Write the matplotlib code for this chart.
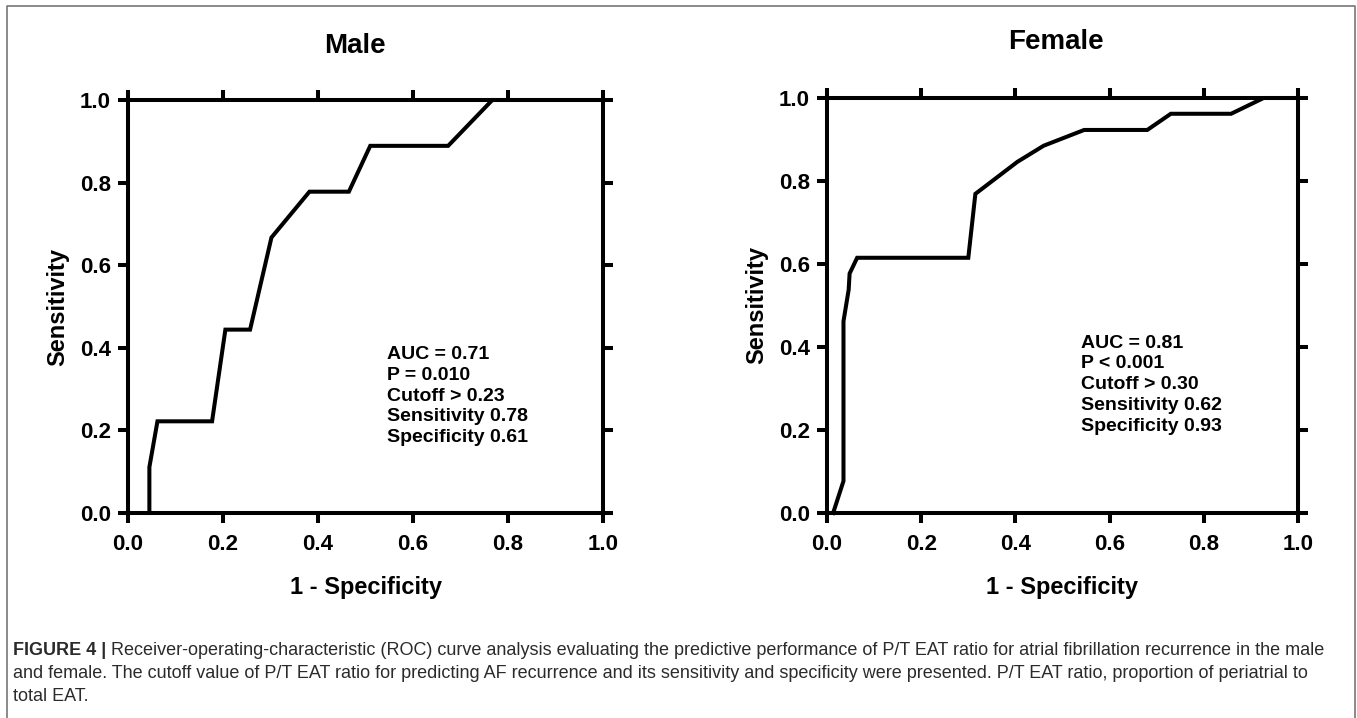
import numpy as np
import matplotlib
matplotlib.use("Agg")
import matplotlib.pyplot as plt
from matplotlib.lines import Line2D

plt.rcParams['font.family'] = ['Liberation Sans', 'DejaVu Sans']

# ROC curve points (1 - specificity, sensitivity)
male_fpr = [0.045, 0.045, 0.062, 0.177, 0.205, 0.257, 0.302, 0.382, 0.465, 0.51, 0.674, 0.767, 1.0]
male_tpr = [0.0, 0.111, 0.222, 0.222, 0.444, 0.444, 0.667, 0.778, 0.778, 0.889, 0.889, 1.0, 1.0]

female_fpr = [0.013, 0.035, 0.035, 0.046, 0.048, 0.064, 0.30, 0.315, 0.404, 0.46, 0.546, 0.68, 0.73, 0.858, 0.927, 1.0]
female_tpr = [0.0, 0.077, 0.462, 0.538, 0.577, 0.615, 0.615, 0.769, 0.846, 0.885, 0.923, 0.923, 0.962, 0.962, 1.0, 1.0]

male_stats = ["AUC = 0.71", "P = 0.010", "Cutoff > 0.23", "Sensitivity 0.78", "Specificity 0.61"]
female_stats = ["AUC = 0.81", "P < 0.001", "Cutoff > 0.30", "Sensitivity 0.62", "Specificity 0.93"]

ticks = [0.0, 0.2, 0.4, 0.6, 0.8, 1.0]
tick_labels = ["0.0", "0.2", "0.4", "0.6", "0.8", "1.0"]

W, H = 1357, 718
fig = plt.figure(figsize=(W / 100, H / 100), dpi=100)


def px_box(left, top, right, bottom):
    return [left / W, 1 - bottom / H, (right - left) / W, (bottom - top) / H]


ax_m = fig.add_axes(px_box(128, 100, 603, 513))
ax_f = fig.add_axes(px_box(827, 98, 1298, 513))

lw = 2.9
for ax, fpr, tpr, stats, stat_pos in [
    (ax_m, male_fpr, male_tpr, male_stats, (0.545, 0.405)),
    (ax_f, female_fpr, female_tpr, female_stats, (0.54, 0.43)),
]:
    ax.plot(fpr, tpr, color='black', lw=lw, clip_on=False, solid_joinstyle='miter')
    ax.set_xlim(0, 1)
    ax.set_ylim(0, 1)
    ax.set_xticks(ticks)
    ax.set_yticks(ticks)
    ax.set_xticklabels(tick_labels)
    ax.set_yticklabels(tick_labels)
    for s in ax.spines.values():
        s.set_linewidth(lw)
    ax.tick_params(direction='out', length=7.2, width=lw, top=True, right=True,
                   labelsize=16, pad=5)
    ax.tick_params(axis='x', pad=8)
    for lab in ax.get_xticklabels() + ax.get_yticklabels():
        lab.set_fontweight('bold')
    ax.set_xlabel("1 - Specificity", fontsize=17, fontweight='bold', labelpad=15)
    ax.set_ylabel("Sensitivity", fontsize=17, fontweight='bold', labelpad=8)
    ax.text(stat_pos[0], stat_pos[1], "\n".join(stats), transform=ax.transData,
            fontsize=14, fontweight='bold', va='top', ha='left', linespacing=1.3)

fig.text(355 / W, 1 - 46 / H, "Male", fontsize=20, fontweight='bold', ha='center', va='center')
fig.text(1056 / W, 1 - 42 / H, "Female", fontsize=20, fontweight='bold', ha='center', va='center')

# outer frame of the figure panel
frame_col = '#777777'
fig.add_artist(Line2D([7 / W, 7 / W, 1355 / W, 1355 / W], [0, 1 - 6 / H, 1 - 6 / H, 0],
                      transform=fig.transFigure, color=frame_col, lw=1.2))

# caption
cap_col = '#2b2b2b'
cap_lines = [
    "Receiver-operating-characteristic (ROC) curve analysis evaluating the predictive performance of P/T EAT ratio for atrial fibrillation recurrence in the male",
    "and female. The cutoff value of P/T EAT ratio for predicting AF recurrence and its sensitivity and specificity were presented. P/T EAT ratio, proportion of periatrial to",
    "total EAT.",
]
baselines = [655, 678, 701]
cap_size = 13
fig.canvas.draw()
r = fig.canvas.get_renderer()
bold = fig.text(13 / W, 1 - baselines[0] / H, "FIGURE 4 | ", fontsize=cap_size, fontweight='bold',
                color=cap_col, va='baseline', ha='left')
bb = bold.get_window_extent(renderer=r)
fig.text(bb.x1 / W, 1 - baselines[0] / H, cap_lines[0], fontsize=cap_size, color=cap_col,
         va='baseline', ha='left')
for line, y in zip(cap_lines[1:], baselines[1:]):
    fig.text(13 / W, 1 - y / H, line, fontsize=cap_size, color=cap_col, va='baseline', ha='left')

fig.savefig("out.png", dpi=100)
